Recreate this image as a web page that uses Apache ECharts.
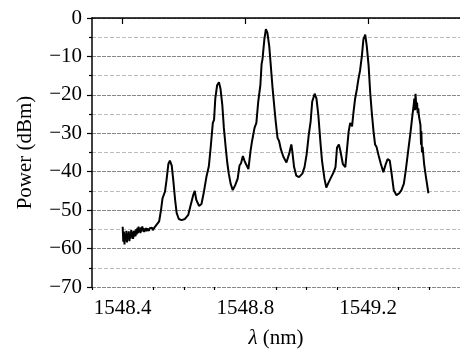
<!DOCTYPE html>
<html>
<head>
<meta charset="utf-8">
<script src="https://cdn.jsdelivr.net/npm/echarts@6/dist/echarts.min.js"></script>
<style>
  html, body { margin: 0; padding: 0; background: #fff; }
  #chart { width: 460px; height: 354px; }
</style>
</head>
<body>
<div id="chart"></div>
<script>
// wavelength (nm) and power (dBm)
const wavelength = [
  1548.400, 1548.402, 1548.404, 1548.406, 1548.408, 1548.410, 1548.412, 1548.414, 1548.416, 1548.418,
  1548.420, 1548.422, 1548.424, 1548.426, 1548.428, 1548.430, 1548.432, 1548.434, 1548.436, 1548.438,
  1548.440, 1548.442, 1548.444, 1548.446, 1548.448, 1548.450, 1548.452, 1548.454, 1548.456, 1548.458,
  1548.460, 1548.462, 1548.464, 1548.466, 1548.468, 1548.470, 1548.472, 1548.474, 1548.476, 1548.478,
  1548.480, 1548.482, 1548.484, 1548.486, 1548.488, 1548.490, 1548.492, 1548.494, 1548.496, 1548.498,
  1548.500, 1548.502, 1548.504, 1548.506, 1548.519, 1548.525, 1548.530, 1548.538, 1548.543, 1548.549,
  1548.554, 1548.560, 1548.565, 1548.571, 1548.576, 1548.583, 1548.592, 1548.603, 1548.614, 1548.622,
  1548.630, 1548.635, 1548.640, 1548.649, 1548.657, 1548.665, 1548.673, 1548.681, 1548.687, 1548.694,
  1548.698, 1548.702, 1548.708, 1548.714, 1548.719, 1548.725, 1548.730, 1548.736, 1548.741, 1548.746,
  1548.752, 1548.759, 1548.767, 1548.775, 1548.781, 1548.786, 1548.792, 1548.797, 1548.802, 1548.810,
  1548.817, 1548.822, 1548.830, 1548.836, 1548.842, 1548.849, 1548.853, 1548.856, 1548.862, 1548.867,
  1548.872, 1548.878, 1548.883, 1548.889, 1548.894, 1548.899, 1548.905, 1548.910, 1548.916, 1548.924,
  1548.934, 1548.943, 1548.950, 1548.953, 1548.959, 1548.966, 1548.975, 1548.986, 1548.993, 1549.000,
  1549.007, 1549.013, 1549.018, 1549.026, 1549.032, 1549.038, 1549.045, 1549.050, 1549.058, 1549.064,
  1549.072, 1549.080, 1549.088, 1549.094, 1549.099, 1549.105, 1549.110, 1549.118, 1549.126, 1549.131,
  1549.137, 1549.142, 1549.148, 1549.153, 1549.158, 1549.164, 1549.169, 1549.174, 1549.180, 1549.185,
  1549.191, 1549.196, 1549.202, 1549.207, 1549.212, 1549.218, 1549.223, 1549.228, 1549.235, 1549.242,
  1549.250, 1549.258, 1549.264, 1549.271, 1549.277, 1549.284, 1549.288, 1549.293, 1549.302, 1549.309,
  1549.317, 1549.323, 1549.331, 1549.339, 1549.345, 1549.349, 1549.351, 1549.353, 1549.355, 1549.358,
  1549.360, 1549.362, 1549.364, 1549.366, 1549.371, 1549.373, 1549.374, 1549.376, 1549.378, 1549.383,
  1549.389, 1549.397
];
const power = [
  -54.3, -58.2, -55.6, -58.9, -56.2, -57.9, -55.4, -58.4, -56.0, -57.6,
  -55.5, -58.1, -56.3, -57.4, -55.2, -57.1, -55.7, -57.5, -55.4, -56.9,
  -55.3, -56.8, -55.0, -56.3, -54.6, -56.0, -54.3, -55.7, -54.8, -56.0,
  -54.5, -55.6, -54.2, -55.3, -54.7, -55.7, -54.9, -55.5, -54.6, -55.5,
  -54.8, -55.3, -54.5, -55.4, -54.7, -55.2, -54.4, -55.1, -54.6, -55.2,
  -54.7, -54.9, -54.5, -54.8, -52.9, -50.0, -46.9, -45.2, -42.2, -38.0,
  -37.1, -38.4, -42.2, -47.3, -50.7, -52.3, -52.6, -52.3, -51.2, -48.6,
  -46.1, -45.0, -47.3, -48.9, -48.4, -45.2, -41.4, -38.6, -33.7, -27.3,
  -26.5, -21.0, -17.5, -16.7, -18.4, -22.7, -28.6, -33.7, -37.6, -40.5,
  -43.1, -44.8, -43.5, -41.8, -38.4, -37.8, -35.9, -37.1, -38.0, -39.3,
  -34.6, -32.0, -28.6, -27.3, -21.8, -17.5, -12.0, -10.7, -5.6, -2.9,
  -3.9, -7.3, -12.4, -18.4, -22.7, -26.9, -31.2, -32.0, -34.2, -36.1,
  -37.6, -35.3, -32.9, -34.6, -38.8, -41.0, -41.4, -40.5, -38.8, -35.4,
  -30.3, -26.9, -21.8, -19.7, -21.0, -25.2, -32.5, -37.1, -41.8, -44.1,
  -42.7, -41.4, -40.1, -38.8, -33.7, -32.9, -34.6, -38.0, -38.8, -34.6,
  -29.5, -27.3, -28.2, -24.3, -21.0, -18.4, -15.8, -13.7, -9.9, -5.6,
  -4.3, -7.3, -12.4, -19.2, -24.3, -29.5, -32.9, -33.6, -35.9, -38.0,
  -40.1, -38.0, -36.7, -37.1, -40.5, -44.8, -45.2, -46.1, -45.6, -44.8,
  -43.1, -39.7, -34.6, -29.5, -25.2, -22.7, -21.0, -24.0, -19.7, -23.8,
  -22.0, -24.8, -23.5, -25.5, -27.8, -33.0, -29.5, -35.0, -33.5, -38.0,
  -41.4, -45.6
];

const majorXTicks = [1548.4, 1548.8, 1549.2];
const minorXTicks = [1548.3, 1548.5, 1548.6, 1548.7, 1548.9, 1549.0, 1549.1, 1549.3, 1549.4];

const chart = echarts.init(document.getElementById('chart'), null, { renderer: 'canvas' });

const font = 'Liberation Serif';
const minus = v => String(v).replace('-', '\u2212');

const option = {
  animation: false,
  backgroundColor: '#fff',
  grid: { left: 92, top: 18, width: 371, height: 274 },
  xAxis: [
    {
      type: 'value',
      min: 1548.3,
      max: 1549.5,
      name: '{i|λ} (nm)',
      nameLocation: 'middle',
      nameGap: 41,
      nameTextStyle: {
        fontFamily: font, fontSize: 21, color: '#000',
        rich: { i: { fontFamily: font, fontSize: 21, fontStyle: 'italic', color: '#000' } }
      },
      axisLine: { lineStyle: { color: '#000', width: 1.5 } },
      axisTick: { customValues: majorXTicks, length: 6, lineStyle: { color: '#000', width: 1.2 } },
      axisLabel: {
        customValues: majorXTicks,
        margin: 11,
        fontFamily: font, fontSize: 21, color: '#000',
        formatter: v => v.toFixed(1)
      },
      splitLine: { show: false }
    },
    {
      type: 'value',
      position: 'bottom',
      min: 1548.3,
      max: 1549.5,
      axisLine: { show: false },
      axisTick: { customValues: minorXTicks, length: 3, lineStyle: { color: '#000', width: 1.2 } },
      axisLabel: { show: false },
      splitLine: { show: false }
    }
  ],
  yAxis: {
    type: 'value',
    min: -70,
    max: 0,
    interval: 10,
    name: 'Power (dBm)',
    nameLocation: 'middle',
    nameGap: 56,
    nameTextStyle: { fontFamily: font, fontSize: 21, color: '#000' },
    axisLine: { show: true, lineStyle: { color: '#000', width: 1.5 } },
    axisTick: { show: true, length: 5, lineStyle: { color: '#000', width: 1.2 } },
    minorTick: { show: true, splitNumber: 2, length: 3, lineStyle: { color: '#000', width: 1.2 } },
    axisLabel: { margin: 10, fontFamily: font, fontSize: 21, color: '#000', formatter: minus },
    splitLine: { show: true, lineStyle: { color: '#888', width: 1, type: [4, 1] } },
    minorSplitLine: { show: true, lineStyle: { color: '#bbb', width: 1, type: [4, 2] } }
  },
  series: [
    {
      type: 'line',
      xAxisIndex: 0,
      data: wavelength.map((w, i) => [w, power[i]]),
      showSymbol: false,
      smooth: false,
      lineStyle: { color: '#000', width: 2 },
      z: 5
    }
  ]
};

chart.setOption(option);
</script>
</body>
</html>
